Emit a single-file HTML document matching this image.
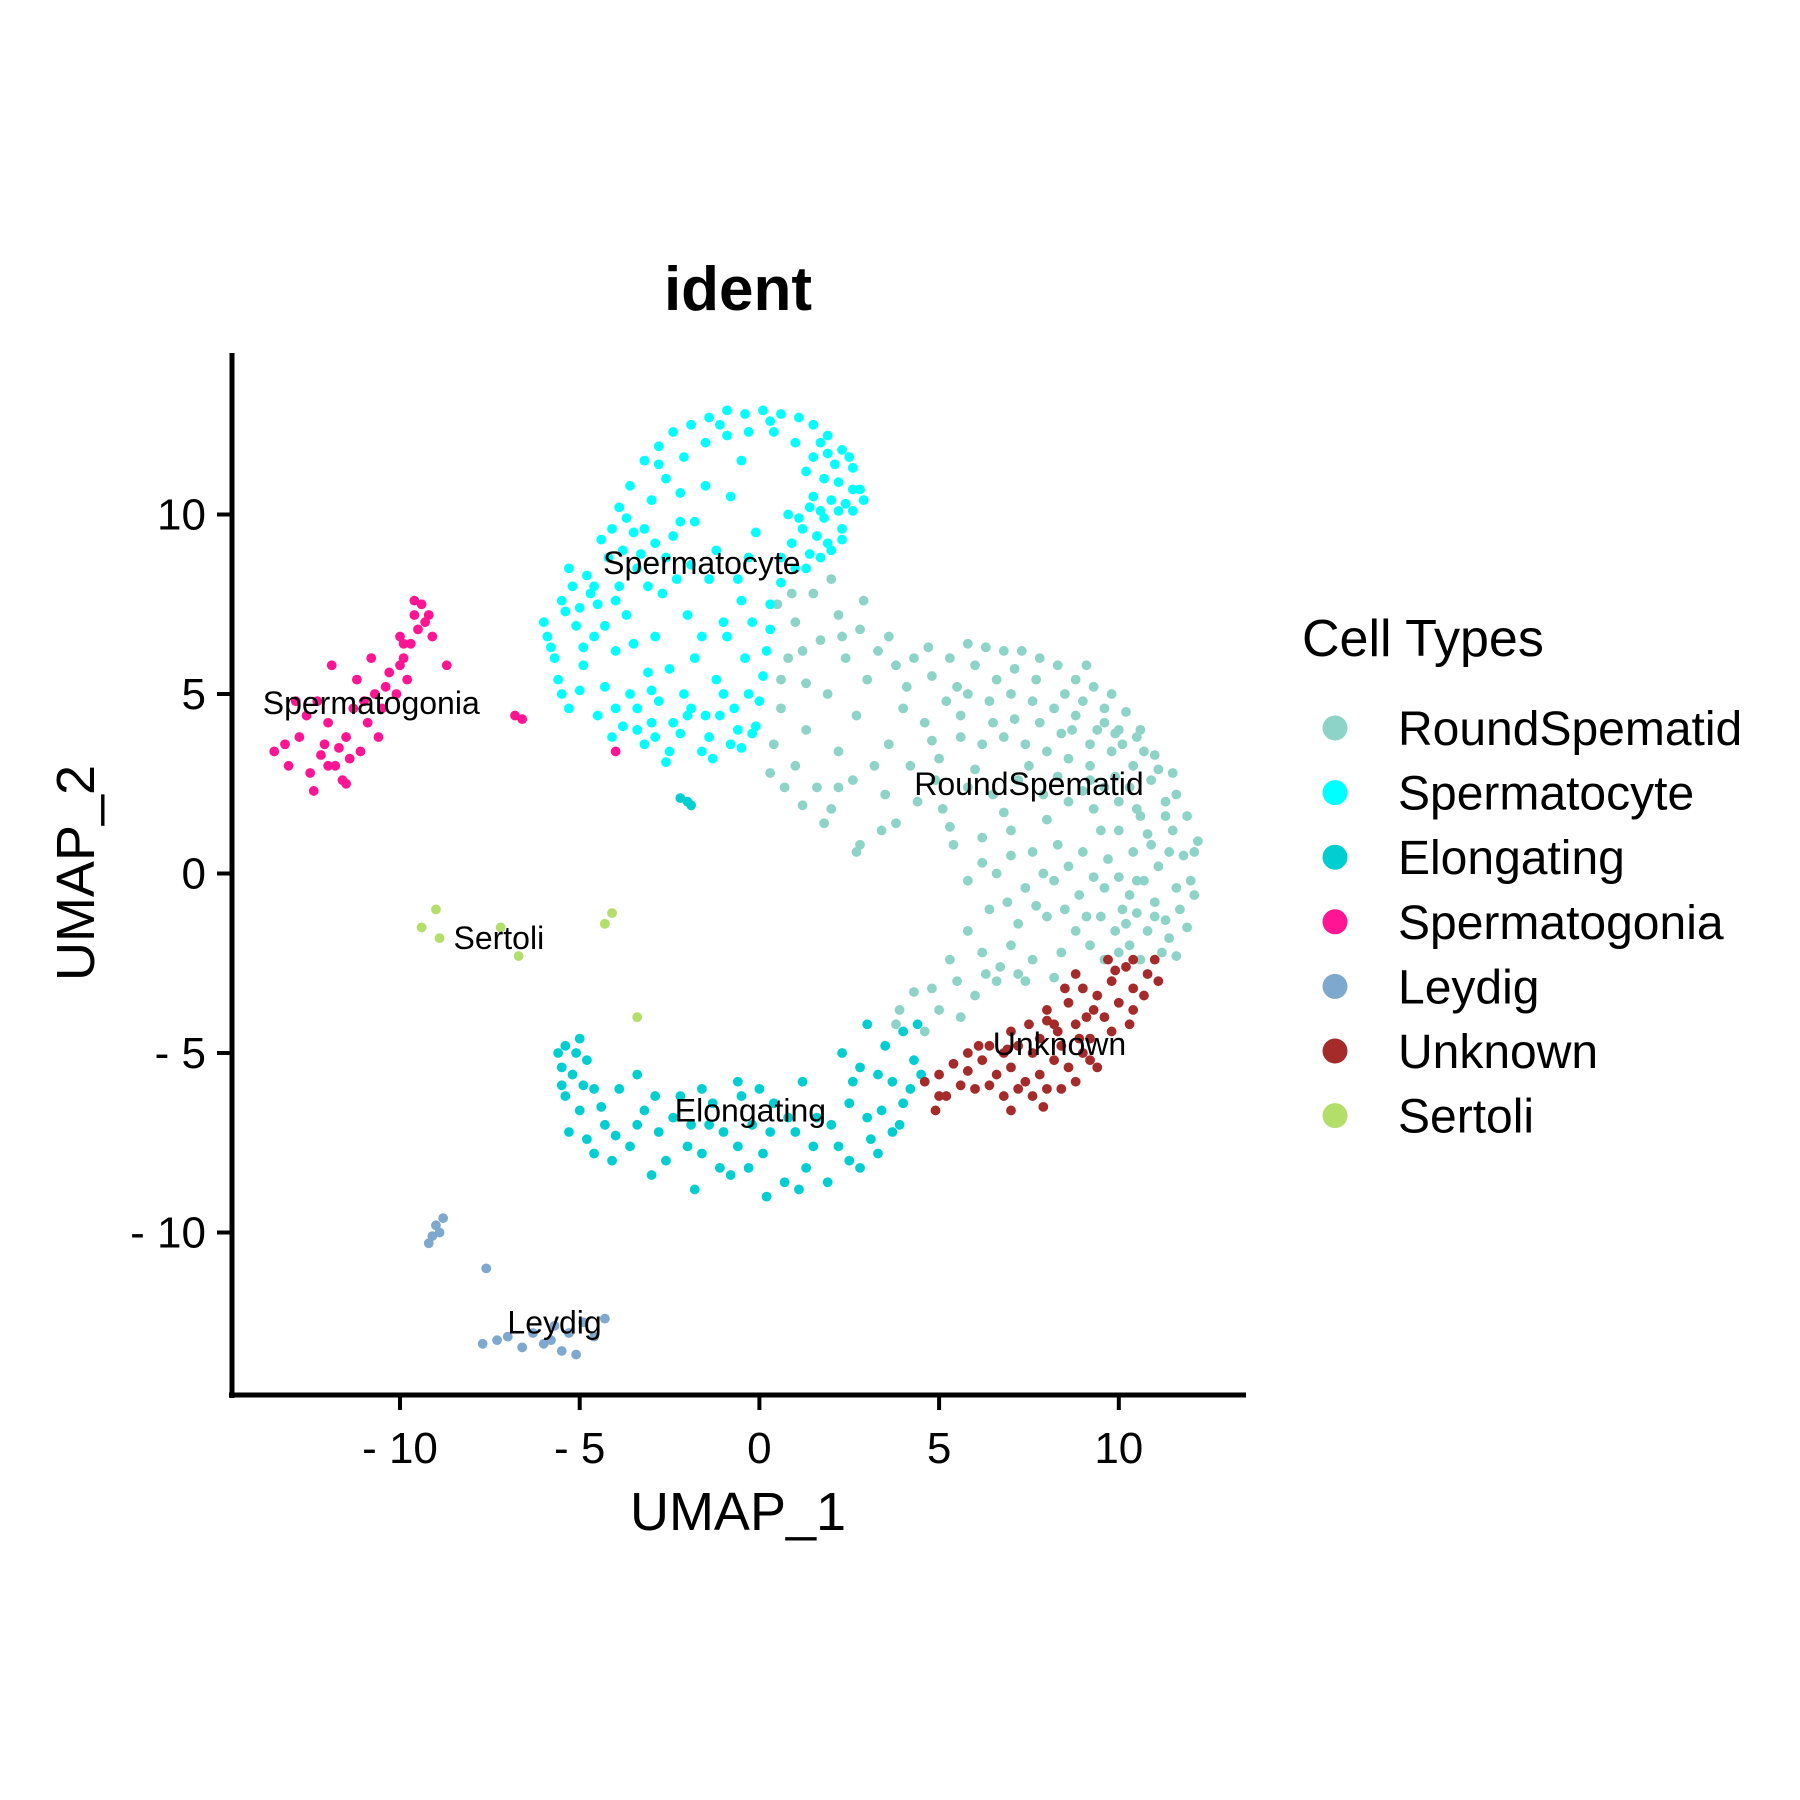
<!DOCTYPE html>
<html><head><meta charset="utf-8">
<style>html,body{margin:0;padding:0;background:#fff}svg{display:block}text{font-family:"Liberation Sans",Arial,sans-serif}</style>
</head><body>
<svg id="chart" width="1800" height="1800" viewBox="0 0 1800 1800">
<text x="738" y="310" font-size="62" font-weight="bold" text-anchor="middle">ident</text>
<g id="points"></g>
<g id="labels"></g>
<line x1="232" y1="353" x2="232" y2="1398" stroke="#000" stroke-width="5"/>
<line x1="229" y1="1395" x2="1246" y2="1395" stroke="#000" stroke-width="5"/>
<g id="axes"></g>
<text x="738" y="1530" font-size="54" text-anchor="middle">UMAP_1</text>
<text x="0" y="0" font-size="54" text-anchor="middle" transform="translate(94,873) rotate(-90)">UMAP_2</text>
<text x="1302" y="656" font-size="52">Cell Types</text>
<g id="legend"></g>
</svg>
<script>
const xTicks=[-10,-5,0,5,10];
const yTicks=[10,5,0,-5,-10];
const categories=["RoundSpematid","Spermatocyte","Elongating","Spermatogonia","Leydig","Unknown","Sertoli"];
const colors=["#8dd3c7","#00ffff","#00ced1","#ff1493","#7fa8cf","#a52a2a","#b3de69"];
const roundSpematid=[[0.5,7.5],[1.0,7.0],[1.5,7.8],[2.0,8.2],[1.7,6.5],[0.8,6.0],[1.3,5.3],[0.6,4.6],[1.9,5.0],[2.4,6.0],[2.8,6.8],[2.2,7.2],[0.4,3.6],[1.0,3.0],[1.6,2.4],[2.0,1.8],[1.3,4.0],[2.2,3.4],[2.7,4.4],[3.0,5.4],[2.6,2.6],[0.7,2.4],[1.8,1.4],[3.4,1.2],[2.8,0.8],[3.3,6.2],[3.8,5.8],[4.3,6.0],[4.8,5.5],[5.3,6.0],[5.8,6.4],[6.3,6.3],[6.8,6.2],[7.3,6.2],[7.8,6.0],[8.3,5.8],[8.8,5.4],[9.3,5.2],[9.8,5.0],[10.2,4.5],[10.6,4.0],[4.0,4.6],[4.6,4.2],[5.2,4.8],[5.8,5.0],[6.4,4.8],[7.0,5.0],[7.6,4.8],[8.2,4.6],[8.8,4.4],[9.4,4.0],[3.6,3.6],[4.2,3.0],[5.0,3.2],[5.6,3.8],[6.2,3.6],[6.8,3.8],[7.4,3.6],[8.0,3.4],[8.6,3.2],[9.2,3.0],[9.8,3.4],[10.4,3.0],[10.9,2.6],[11.3,2.0],[4.4,2.0],[5.1,1.8],[5.8,2.4],[6.5,2.2],[7.2,2.6],[7.9,2.2],[8.6,2.0],[9.3,1.8],[10.0,2.0],[10.6,1.6],[11.5,1.2],[11.8,0.5],[12.0,-0.2],[3.8,1.4],[5.4,0.8],[6.2,1.0],[7.0,1.2],[7.6,0.6],[8.3,0.8],[9.0,0.6],[9.7,0.4],[10.4,0.6],[11.1,0.2],[2.7,0.6],[5.8,-0.2],[6.6,0.0],[7.4,-0.4],[8.2,-0.2],[8.9,-0.6],[9.6,-0.4],[10.3,-0.6],[11.0,-0.8],[11.7,-1.0],[11.4,-1.8],[10.8,-1.6],[10.2,-1.4],[9.5,-1.2],[8.8,-1.6],[8.0,-1.2],[7.2,-1.4],[6.4,-1.0],[5.8,-1.6],[6.2,-2.2],[7.0,-2.0],[7.6,-2.4],[8.4,-2.2],[9.2,-2.0],[10.0,-2.2],[10.6,-2.4],[11.2,-2.2],[5.5,-3.0],[6.0,-3.4],[6.6,-3.0],[5.0,-3.8],[4.3,-3.3],[4.6,-4.4],[3.8,-4.2],[7.4,-3.0],[8.2,-2.9],[10.5,3.8],[11.0,3.3],[11.5,2.8],[12.1,0.6],[11.6,-0.4],[10.7,-0.2],[10.0,1.2],[10.8,1.1],[11.3,-1.3],[10.1,-1.0],[9.2,2.6],[9.6,2.4],[10.3,2.4],[9.0,4.8],[9.6,4.6],[10.0,4.0],
[0.9,7.8],[1.2,6.2],[2.3,6.6],[2.9,7.6],[3.6,6.6],[4.1,5.2],[4.7,6.3],[5.5,5.2],[6.0,5.8],[6.6,5.4],[7.1,5.7],[7.7,5.4],[8.5,5.0],[9.1,5.8],[9.6,4.2],[10.1,3.6],[10.7,3.4],[11.1,2.9],[11.6,2.2],[11.9,1.6],[12.2,0.9],[12.1,-0.6],[11.9,-1.5],[11.6,-2.3],[11.0,-1.2],[10.5,-0.2],[10.5,1.8],[9.9,2.7],[9.2,3.6],[8.4,3.9],[7.8,4.2],[7.1,4.3],[6.5,4.2],[5.6,4.4],[4.8,3.7],[3.2,3.0],[2.2,2.4],[1.2,1.9],[0.3,2.8],[0.6,5.4],[3.5,2.2],[4.9,2.6],[6.0,2.9],[7.5,3.0],[8.3,2.7],[9.0,2.3],[5.3,1.3],[6.8,1.7],[8.0,1.5],[9.5,1.2],[10.9,0.8],[6.2,0.3],[7.0,0.5],[7.9,0.0],[8.6,0.2],[9.3,-0.1],[10.0,-0.1],[11.4,0.6],[6.9,-0.8],[7.7,-0.9],[8.5,-1.0],[9.1,-1.2],[9.9,-1.6],[10.5,-1.1],[6.7,-2.6],[7.2,-2.8],[9.6,-2.4],[10.3,-2.0],[5.3,-2.4],[4.8,-3.2],[5.6,-4.0],[3.9,-3.8],[6.3,-2.8],[11.3,1.6],[9.9,3.9],[8.7,4.0]];
const spermatocyte=[[-3.9,10.2],[-3.6,10.8],[-3.2,11.5],[-2.8,11.9],[-2.4,12.3],[-1.9,12.5],[-1.4,12.7],[-0.9,12.9],[-0.4,12.8],[0.1,12.9],[0.6,12.8],[1.1,12.7],[1.5,12.5],[1.9,12.2],[2.3,11.8],[2.6,11.3],[2.8,10.7],[2.6,10.1],[2.3,9.6],[1.9,9.2],[1.4,8.9],[1.0,8.5],[0.6,8.1],[0.3,7.5],[0.3,6.8],[0.2,6.2],[0.1,5.5],[0.0,4.8],[-0.1,4.1],[-3.5,9.5],[-3.0,10.4],[-2.6,11.0],[-2.1,11.6],[-1.5,12.0],[-0.9,12.2],[-0.3,12.3],[0.4,12.3],[1.0,12.0],[1.5,11.6],[1.8,11.0],[2.0,10.4],[1.8,9.9],[1.5,10.5],[1.3,11.2],[2.2,10.9],[2.4,10.3],[1.2,9.6],[0.9,9.2],[0.6,8.8],[0.8,10.0],[1.6,9.4],[2.0,9.0],[1.4,10.2],[2.1,11.4],[2.5,11.6],[-1.5,10.8],[-1.8,9.8],[-0.8,10.5],[-1.2,9.0],[-0.3,8.8],[-1.4,8.2],[-0.5,7.6],[-2.0,7.2],[-6.0,7.0],[-5.8,6.3],[-5.5,7.6],[-5.2,8.0],[-4.8,8.3],[-4.5,7.5],[-4.2,8.8],[-3.8,9.0],[-3.4,8.5],[-5.6,5.4],[-5.3,4.6],[-4.9,5.8],[-4.6,6.6],[-4.3,5.2],[-4.0,6.2],[-3.7,7.2],[-3.4,4.6],[-3.1,5.6],[-2.9,6.6],[-2.7,7.8],[-2.4,4.2],[-2.1,5.0],[-1.8,6.0],[-1.5,4.4],[-1.2,5.4],[-0.9,6.6],[-0.6,4.0],[-0.3,5.0],[-0.8,3.6],[-1.6,3.4],[-2.5,3.4],[-3.2,3.6],[-3.8,4.1],[-4.1,3.8],[-3.6,5.0],[-2.8,4.8],[-2.2,3.9],[-1.1,4.4],[-0.4,6.0],[-5.9,6.6],[-5.1,6.9],[-4.7,7.8],[-4.4,9.3],[-3.9,8.0],[-3.2,9.6],[-2.6,8.8],[-2.2,9.8],[-1.9,8.6],[-5.4,7.3],[-4.0,4.6],[-3.0,4.2],[-1.9,4.6],[-0.5,3.5],[-2.6,3.1],
[-5.7,6.0],[-5.5,5.0],[-5.0,7.4],[-4.6,8.0],[-4.1,9.6],[-3.7,9.9],[-3.3,8.9],[-2.9,9.2],[-2.4,9.4],[-2.2,10.6],[-2.8,11.4],[-1.1,12.5],[0.3,12.6],[1.7,12.0],[2.6,10.7],[2.9,10.4],[2.3,9.3],[1.7,8.8],[1.3,8.5],[1.1,9.9],[1.7,10.1],[2.2,10.1],[1.9,11.7],[-4.9,6.3],[-4.3,6.9],[-3.5,6.4],[-3.0,5.1],[-2.5,5.7],[-2.0,4.4],[-1.4,3.8],[-1.0,5.0],[-0.7,4.6],[-0.2,3.9],[-1.3,3.2],[-2.9,3.8],[-3.4,4.0],[-4.5,4.4],[-5.0,5.1],[-0.2,7.0],[-0.6,8.2],[-1.0,7.0],[-1.6,6.6],[-2.3,8.2],[-3.1,8.0],[-4.0,7.6],[-5.3,8.5],[-0.1,9.5],[-0.5,11.5]];
const elongating=[[-5.4,-4.8],[-5.0,-4.6],[-5.5,-5.4],[-5.2,-5.6],[-4.8,-5.2],[-5.4,-6.2],[-5.0,-6.6],[-4.6,-6.0],[-5.3,-7.2],[-4.8,-7.4],[-4.3,-7.0],[-3.9,-6.0],[-3.6,-7.6],[-3.2,-6.6],[-2.8,-7.2],[-2.6,-8.0],[-2.2,-6.2],[-1.9,-7.0],[-1.6,-7.8],[-1.3,-6.4],[-1.0,-7.2],[-0.8,-8.4],[-0.5,-6.2],[-0.2,-7.0],[0.1,-7.8],[0.4,-6.4],[0.7,-8.6],[1.0,-7.2],[1.3,-8.2],[1.6,-6.8],[1.9,-8.6],[2.2,-7.6],[2.5,-6.4],[2.8,-8.2],[3.1,-7.4],[3.4,-6.6],[3.7,-5.8],[4.0,-6.4],[4.3,-5.2],[3.5,-4.8],[2.8,-5.4],[4.0,-4.4],[3.9,-7.0],[-3.0,-8.4],[-1.8,-8.8],[0.2,-9.0],[-4.1,-8.0],[-0.6,-5.8],[1.2,-5.8],[2.3,-5.0],[-2.2,2.1],[-2.0,2.0],[-1.9,1.9],[4.4,-4.2],[3.0,-4.2],[-3.4,-5.6],
[-5.6,-5.0],[-5.1,-5.0],[-5.5,-5.9],[-4.9,-5.9],[-4.4,-6.5],[-4.0,-7.3],[-3.4,-7.0],[-2.9,-6.2],[-2.4,-6.8],[-2.0,-7.6],[-1.4,-7.0],[-1.1,-8.2],[-0.6,-7.6],[-0.3,-8.2],[0.3,-7.2],[0.8,-6.8],[1.1,-8.8],[1.5,-7.6],[2.0,-7.0],[2.5,-8.0],[3.0,-6.8],[3.3,-7.8],[3.7,-7.2],[4.2,-6.0],[4.5,-5.6],[3.3,-5.6],[2.6,-5.8],[0.0,-6.0],[-1.6,-6.0],[-4.6,-7.8]];
const spermatogonia=[[-13.5,3.4],[-13.1,3.0],[-12.8,3.8],[-12.4,2.3],[-12.2,3.3],[-12.0,4.2],[-11.8,3.0],[-11.6,2.6],[-11.5,3.8],[-11.3,4.6],[-11.1,3.4],[-10.9,4.2],[-10.7,5.0],[-10.5,4.6],[-10.3,5.6],[-10.1,5.0],[-9.9,6.0],[-9.7,6.4],[-9.5,6.8],[-9.4,7.5],[-9.2,7.2],[-9.1,6.6],[-12.6,4.4],[-12.9,4.8],[-11.9,5.8],[-11.2,5.4],[-10.8,6.0],[-10.0,6.6],[-9.6,7.6],[-8.7,5.8],[-11.4,3.2],[-12.1,3.6],[-10.6,3.8],[-9.8,5.4],[-6.8,4.4],[-6.6,4.3],[-4.0,3.4],
[-13.2,3.6],[-12.5,2.8],[-12.0,3.0],[-11.7,3.5],[-11.0,4.8],[-10.4,5.2],[-9.9,6.4],[-9.3,7.0],[-11.5,2.5],[-12.3,4.8],[-10.0,5.8],[-9.6,7.2]];
const leydig=[[-9.1,-10.1],[-9.0,-9.8],[-8.9,-10.0],[-8.8,-9.6],[-9.2,-10.3],[-7.6,-11.0],[-7.7,-13.1],[-7.3,-13.0],[-7.0,-12.9],[-6.6,-13.2],[-6.3,-12.8],[-6.0,-13.1],[-5.7,-12.6],[-5.5,-13.3],[-5.3,-12.8],[-5.1,-13.4],[-4.9,-12.5],[-4.6,-12.9],[-4.3,-12.4],[-5.8,-13.0]];
const unknown=[[4.6,-5.8],[5.0,-5.6],[5.4,-5.3],[5.8,-5.5],[6.2,-5.2],[6.6,-5.6],[7.0,-5.4],[7.4,-5.8],[7.8,-5.6],[8.2,-5.2],[8.6,-5.4],[9.0,-5.0],[5.2,-6.2],[6.0,-6.0],[6.8,-6.2],[7.6,-6.2],[8.4,-6.0],[7.2,-4.8],[7.8,-4.6],[8.3,-4.4],[8.8,-4.2],[9.2,-4.6],[9.6,-4.0],[10.0,-3.6],[10.4,-3.2],[10.8,-2.8],[11.0,-2.4],[9.4,-3.4],[9.8,-3.0],[10.2,-2.6],[8.6,-3.6],[9.0,-3.2],[8.0,-3.8],[7.5,-4.2],[8.4,-4.8],[9.4,-5.4],[6.4,-4.8],[7.0,-4.4],[10.4,-3.8],[9.7,-2.4],[4.9,-6.6],[8.8,-2.8],[7.0,-6.6],[8.0,-4.1],[9.1,-4.0],[6.8,-5.0],
[5.0,-6.2],[5.6,-5.9],[6.4,-5.9],[7.2,-6.0],[8.0,-6.0],[8.8,-5.8],[9.2,-5.2],[9.8,-4.4],[10.3,-4.2],[10.7,-3.4],[9.3,-3.8],[8.5,-3.2],[8.2,-4.2],[7.6,-5.0],[6.9,-4.9],[6.1,-4.8],[9.9,-2.7],[10.4,-2.4],[11.1,-3.0],[7.9,-6.5],[5.8,-5.0],[8.9,-4.6]];
const sertoli=[[-9.0,-1.0],[-9.4,-1.5],[-8.9,-1.8],[-7.2,-1.5],[-6.7,-2.3],[-4.3,-1.4],[-4.1,-1.1],[-3.4,-4.0]];
const seriesPoints=[roundSpematid,spermatocyte,elongating,spermatogonia,leydig,unknown,sertoli];
const labelPos=[[7.5,2.5],[-1.6,8.65],[-0.25,-6.6],[-10.8,4.75],[-5.7,-12.5],[8.35,-4.75],[-7.25,-1.8]];

const NS="http://www.w3.org/2000/svg";
function xs(v){return 759.4+35.94*v;}
function ys(v){return 873.5-35.9*v;}
function mk(tag,attrs,parent){const e=document.createElementNS(NS,tag);for(const k in attrs)e.setAttribute(k,attrs[k]);parent.appendChild(e);return e;}
const axes=document.getElementById('axes');
xTicks.forEach(t=>{
  const l=mk('line',{x1:xs(t),x2:xs(t),y1:1395,y2:1410,stroke:'#000','stroke-width':4},axes);
  
  
  const tx=mk('text',{x:xs(t),y:1463,'font-size':44,'text-anchor':'middle'},axes);
  tx.textContent=(t<0?'- '+(-t):''+t);
  
  
});
yTicks.forEach(t=>{
  const l=mk('line',{x1:217,x2:232,y1:ys(t),y2:ys(t),stroke:'#000','stroke-width':4},axes);
  
  
  const tx=mk('text',{x:206,y:ys(t)+15,'font-size':44,'text-anchor':'end'},axes);
  tx.textContent=(t<0?'- '+(-t):''+t);
  
  
});
const pg=document.getElementById('points');
seriesPoints.forEach((arr,i)=>{
  arr.forEach(p=>{
    const c=mk('circle',{cx:xs(p[0]),cy:ys(p[1]),r:4.9,fill:colors[i]},pg);
    
    
  });
});
const lg=document.getElementById('labels');
labelPos.forEach((p,i)=>{
  const t=mk('text',{x:xs(p[0]),y:ys(p[1])+11,'font-size':32,'text-anchor':'middle'},lg);
  t.textContent=categories[i];
  
  
});
const leg=document.getElementById('legend');
categories.forEach((c,i)=>{
  const y=728+64.6*i;
  const d=mk('circle',{cx:1335,cy:y,r:12.5,fill:colors[i]},leg);
  
  
  const t=mk('text',{x:1398,y:y+17,'font-size':48},leg);
  t.textContent=c;
  
  
});
</script>
</body></html>
